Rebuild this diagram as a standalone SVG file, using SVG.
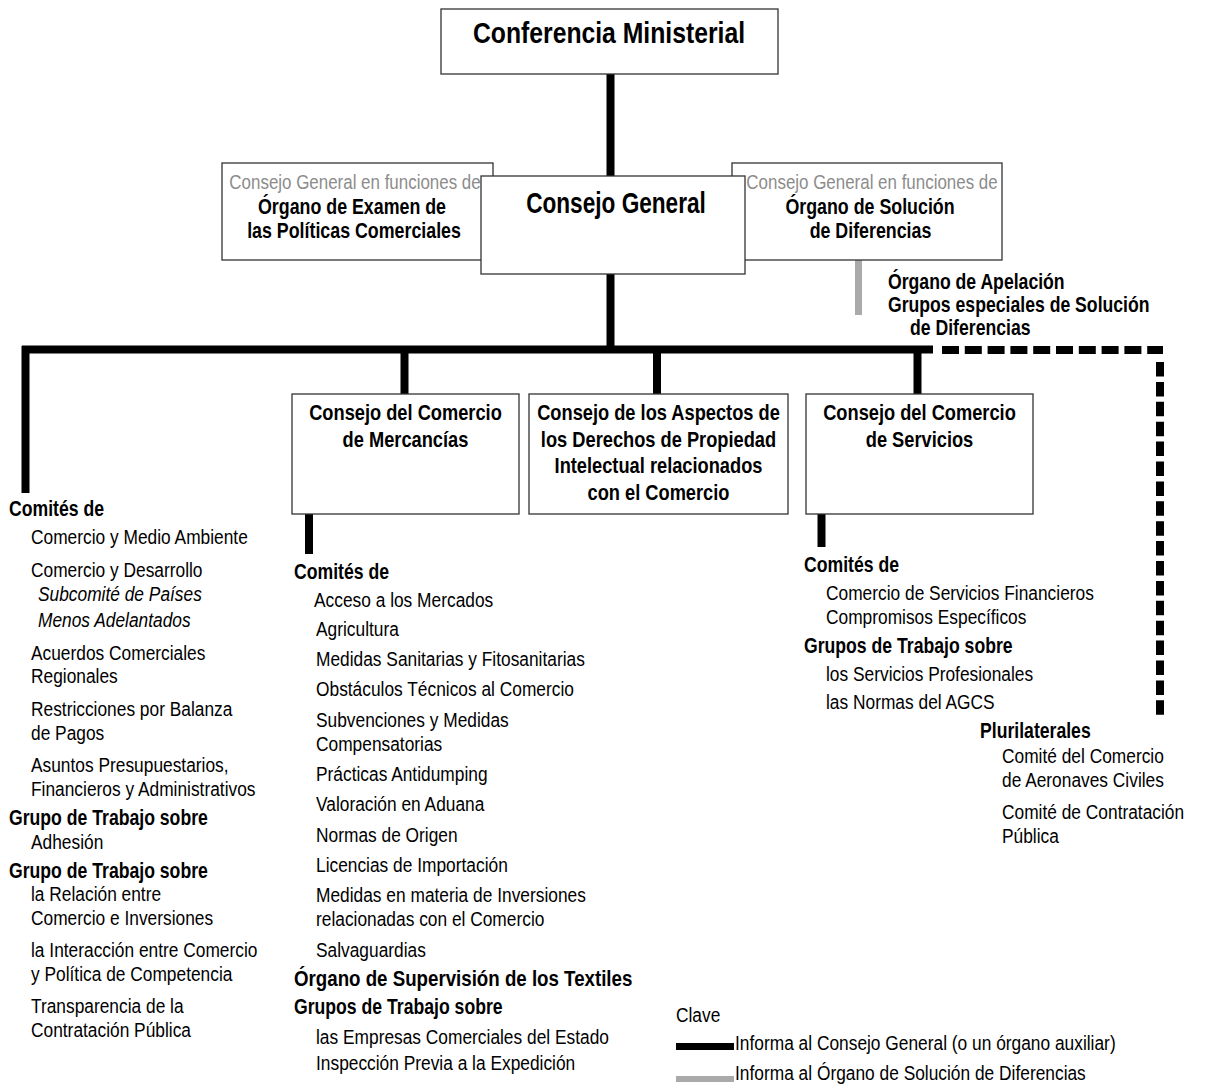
<svg xmlns="http://www.w3.org/2000/svg" width="1218" height="1085" viewBox="0 0 1218 1085">
<style>
text{font-family:"Liberation Sans",Arial,sans-serif;fill:#000}
.r{font-size:21px}
.b{font-size:21.5px;font-weight:bold}
.bx{font-size:22px;font-weight:bold}
.big{font-size:29px;font-weight:bold}
.g{font-size:20.5px;fill:#8c8c8c}
.i{font-size:21px;font-style:italic}
.m{text-anchor:middle}
.box{fill:#fff;stroke:#333;stroke-width:1.3}
.k{stroke:#000;stroke-width:8;fill:none}
.gr{stroke:#aaa;stroke-width:7;fill:none}
</style>
<rect width="1218" height="1085" fill="#fff"/>
<g id="connectors">
<line class="k" x1="610.5" y1="74" x2="610.5" y2="177"/>
<line class="k" x1="610.5" y1="274" x2="610.5" y2="350"/>
<line class="k" x1="22" y1="349.5" x2="933" y2="349.5"/>
<line class="k" x1="25.5" y1="346" x2="25.5" y2="493"/>
<line class="k" x1="404.5" y1="349" x2="404.5" y2="394"/>
<line class="k" x1="657" y1="349" x2="657" y2="394"/>
<line class="k" x1="917.5" y1="349" x2="917.5" y2="394"/>
<line class="k" x1="309" y1="514" x2="309" y2="554"/>
<line class="k" x1="821.5" y1="514" x2="821.5" y2="547"/>
<line class="gr" x1="858.5" y1="260" x2="858.5" y2="315"/>
<line class="k" x1="942" y1="350" x2="1163" y2="350" stroke-dasharray="17 5.8"/>
<line class="k" x1="1160" y1="362" x2="1160" y2="715" stroke-width="7" stroke-dasharray="14.5 5.4"/>
</g>
<g id="conferencia">
<rect class="box" x="441" y="9" width="337" height="65"/>
<text class="big m" transform="translate(609 43) scale(.853 1)">Conferencia Ministerial</text>
</g>
<g id="examen">
<rect class="box" x="222" y="163" width="271" height="97"/>
<text class="g m" transform="translate(355 189) scale(.826 1)">Consejo General en funciones de</text>
<text class="bx m" transform="translate(352 214) scale(.81 1)">Órgano de Examen de</text>
<text class="bx m" transform="translate(354 238) scale(.81 1)">las Políticas Comerciales</text>
</g>
<g id="solucion">
<rect class="box" x="732" y="163" width="270" height="97"/>
<text class="g m" transform="translate(872 189) scale(.826 1)">Consejo General en funciones de</text>
<text class="bx m" transform="translate(870 214) scale(.81 1)">Órgano de Solución</text>
<text class="bx m" transform="translate(870.5 238) scale(.81 1)">de Diferencias</text>
</g>
<g id="consejo-general">
<rect class="box" x="481" y="176" width="264" height="98"/>
<text class="big m" transform="translate(616 213) scale(.78 1)">Consejo General</text>
</g>
<g id="apelacion">
<text class="b" transform="translate(888 289) scale(.82 1)">Órgano de Apelación</text>
<text class="b" transform="translate(888 312) scale(.82 1)">Grupos especiales de Solución</text>
<text class="b" transform="translate(910 335) scale(.82 1)">de Diferencias</text>
</g>
<g id="mercancias">
<rect class="box" x="292" y="394" width="227" height="120"/>
<text class="bx m" transform="translate(405.5 420) scale(.83 1)">Consejo del Comercio</text>
<text class="bx m" transform="translate(405.5 447) scale(.83 1)">de Mercancías</text>
</g>
<g id="adpic">
<rect class="box" x="529" y="394" width="259" height="120"/>
<text class="bx m" transform="translate(658.5 420) scale(.83 1)">Consejo de los Aspectos de</text>
<text class="bx m" transform="translate(658.5 447) scale(.83 1)">los Derechos de Propiedad</text>
<text class="bx m" transform="translate(658.5 473) scale(.83 1)">Intelectual relacionados</text>
<text class="bx m" transform="translate(658.5 500) scale(.83 1)">con el Comercio</text>
</g>
<g id="servicios">
<rect class="box" x="806" y="394" width="227" height="120"/>
<text class="bx m" transform="translate(919.5 420) scale(.83 1)">Consejo del Comercio</text>
<text class="bx m" transform="translate(919.5 447) scale(.83 1)">de Servicios</text>
</g>
<g id="comites-generales">
<text class="b" transform="translate(9 516) scale(.82 1)">Comités de</text>
<text class="r" transform="translate(31 544) scale(.826 1)">Comercio y Medio Ambiente</text>
<text class="r" transform="translate(31 577) scale(.826 1)">Comercio y Desarrollo</text>
<text class="i" transform="translate(38 601) scale(.826 1)">Subcomité de Países</text>
<text class="i" transform="translate(38 627) scale(.826 1)">Menos Adelantados</text>
<text class="r" transform="translate(31 660) scale(.826 1)">Acuerdos Comerciales</text>
<text class="r" transform="translate(31 683) scale(.826 1)">Regionales</text>
<text class="r" transform="translate(31 716) scale(.826 1)">Restricciones por Balanza</text>
<text class="r" transform="translate(31 740) scale(.826 1)">de Pagos</text>
<text class="r" transform="translate(31 772) scale(.826 1)">Asuntos Presupuestarios,</text>
<text class="r" transform="translate(31 796) scale(.826 1)">Financieros y Administrativos</text>
<text class="b" transform="translate(9 825) scale(.82 1)">Grupo de Trabajo sobre</text>
<text class="r" transform="translate(31 849) scale(.826 1)">Adhesión</text>
<text class="b" transform="translate(9 878) scale(.82 1)">Grupo de Trabajo sobre</text>
<text class="r" transform="translate(31 901) scale(.826 1)">la Relación entre</text>
<text class="r" transform="translate(31 925) scale(.826 1)">Comercio e Inversiones</text>
<text class="r" transform="translate(31 957) scale(.826 1)">la Interacción entre Comercio</text>
<text class="r" transform="translate(31 981) scale(.826 1)">y Política de Competencia</text>
<text class="r" transform="translate(31 1013) scale(.826 1)">Transparencia de la</text>
<text class="r" transform="translate(31 1037) scale(.826 1)">Contratación Pública</text>
</g>
<g id="comites-mercancias">
<text class="b" transform="translate(294 579) scale(.82 1)">Comités de</text>
<text class="r" transform="translate(314 607) scale(.826 1)">Acceso a los Mercados</text>
<text class="r" transform="translate(316 636) scale(.826 1)">Agricultura</text>
<text class="r" transform="translate(316 666) scale(.826 1)">Medidas Sanitarias y Fitosanitarias</text>
<text class="r" transform="translate(316 696) scale(.826 1)">Obstáculos Técnicos al Comercio</text>
<text class="r" transform="translate(316 727) scale(.826 1)">Subvenciones y Medidas</text>
<text class="r" transform="translate(316 751) scale(.826 1)">Compensatorias</text>
<text class="r" transform="translate(316 781) scale(.826 1)">Prácticas Antidumping</text>
<text class="r" transform="translate(316 811) scale(.826 1)">Valoración en Aduana</text>
<text class="r" transform="translate(316 842) scale(.826 1)">Normas de Origen</text>
<text class="r" transform="translate(316 872) scale(.826 1)">Licencias de Importación</text>
<text class="r" transform="translate(316 902) scale(.826 1)">Medidas en materia de Inversiones</text>
<text class="r" transform="translate(316 926) scale(.826 1)">relacionadas con el Comercio</text>
<text class="r" transform="translate(316 957) scale(.826 1)">Salvaguardias</text>
<text class="b" transform="translate(294 986) scale(.87 1)">Órgano de Supervisión de los Textiles</text>
<text class="b" transform="translate(294 1014) scale(.82 1)">Grupos de Trabajo sobre</text>
<text class="r" transform="translate(316 1044) scale(.826 1)">las Empresas Comerciales del Estado</text>
<text class="r" transform="translate(316 1070) scale(.826 1)">Inspección Previa a la Expedición</text>
</g>
<g id="comites-servicios">
<text class="b" transform="translate(804 572) scale(.82 1)">Comités de</text>
<text class="r" transform="translate(826 600) scale(.826 1)">Comercio de Servicios Financieros</text>
<text class="r" transform="translate(826 624) scale(.826 1)">Compromisos Específicos</text>
<text class="b" transform="translate(804 653) scale(.82 1)">Grupos de Trabajo sobre</text>
<text class="r" transform="translate(826 681) scale(.826 1)">los Servicios Profesionales</text>
<text class="r" transform="translate(826 709) scale(.826 1)">las Normas del AGCS</text>
</g>
<g id="plurilaterales">
<text class="b" transform="translate(980 738) scale(.82 1)">Plurilaterales</text>
<text class="r" transform="translate(1002 763) scale(.826 1)">Comité del Comercio</text>
<text class="r" transform="translate(1002 787) scale(.826 1)">de Aeronaves Civiles</text>
<text class="r" transform="translate(1002 819) scale(.826 1)">Comité de Contratación</text>
<text class="r" transform="translate(1002 843) scale(.826 1)">Pública</text>
</g>
<g id="clave">
<text class="r" transform="translate(676 1022) scale(.826 1)">Clave</text>
<rect x="676" y="1043" width="58" height="7" fill="#000"/>
<text class="r" transform="translate(735 1050) scale(.826 1)">Informa al Consejo General (o un órgano auxiliar)</text>
<rect x="676" y="1076" width="58" height="6" fill="#aaa"/>
<text class="r" transform="translate(735 1080) scale(.826 1)">Informa al Órgano de Solución de Diferencias</text>
</g>
</svg>
